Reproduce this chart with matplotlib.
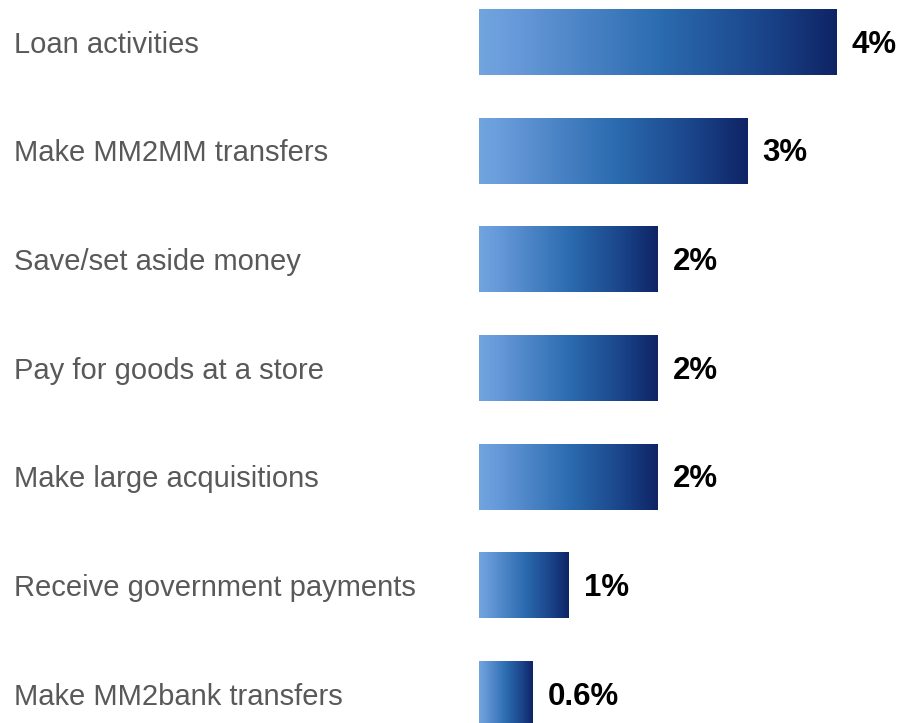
import numpy as np
import matplotlib.pyplot as plt
from matplotlib.colors import LinearSegmentedColormap
from matplotlib.transforms import blended_transform_factory, offset_copy

plt.rcParams['font.family'] = ['Liberation Sans', 'DejaVu Sans']

categories = [
    "Loan activities",
    "Make MM2MM transfers",
    "Save/set aside money",
    "Pay for goods at a store",
    "Make large acquisitions",
    "Receive government payments",
    "Make MM2bank transfers",
]
shares = [4, 3, 2, 2, 2, 1, 0.6]
share_labels = ["4%", "3%", "2%", "2%", "2%", "1%", "0.6%"]

blue_ramp = LinearSegmentedColormap.from_list(
    "blue_ramp",
    [(0.0, "#70a5df"), (0.08, "#6a9cdb"), (0.5, "#2c6cb0"), (0.8, "#1a448a"), (1.0, "#0f2465")],
)

fig = plt.figure(figsize=(9.01, 7.23), dpi=100)
ax = fig.add_axes([479 / 901, 0, 1 - 479 / 901, 1])

# each bar gets its own left-to-right blue gradient
bar_h = 0.6
ramp = np.linspace(0, 1, 256).reshape(1, -1)
for i, v in enumerate(shares):
    ax.imshow(ramp, cmap=blue_ramp, aspect='auto', interpolation='bilinear',
              extent=[0, v, i + bar_h / 2, i - bar_h / 2])

ax.set_xlim(0, 422 / 89.5)
ax.set_ylim(6.262, -0.391)
ax.axis('off')

cat_tf = blended_transform_factory(fig.transFigure, ax.transData)
for i, name in enumerate(categories):
    ax.text(14 / 901, i + 0.02, name, transform=cat_tf, ha='left', va='center',
            fontsize=21, color='#595959')

val_tf = offset_copy(ax.transData, fig=fig, x=15, y=0, units='dots')
for i, (v, lab) in enumerate(zip(shares, share_labels)):
    ax.text(v, i + 0.02, lab, transform=val_tf, ha='left', va='center',
            fontsize=22.5, fontweight='bold', color='black')

fig.savefig("out.png", dpi=100)
